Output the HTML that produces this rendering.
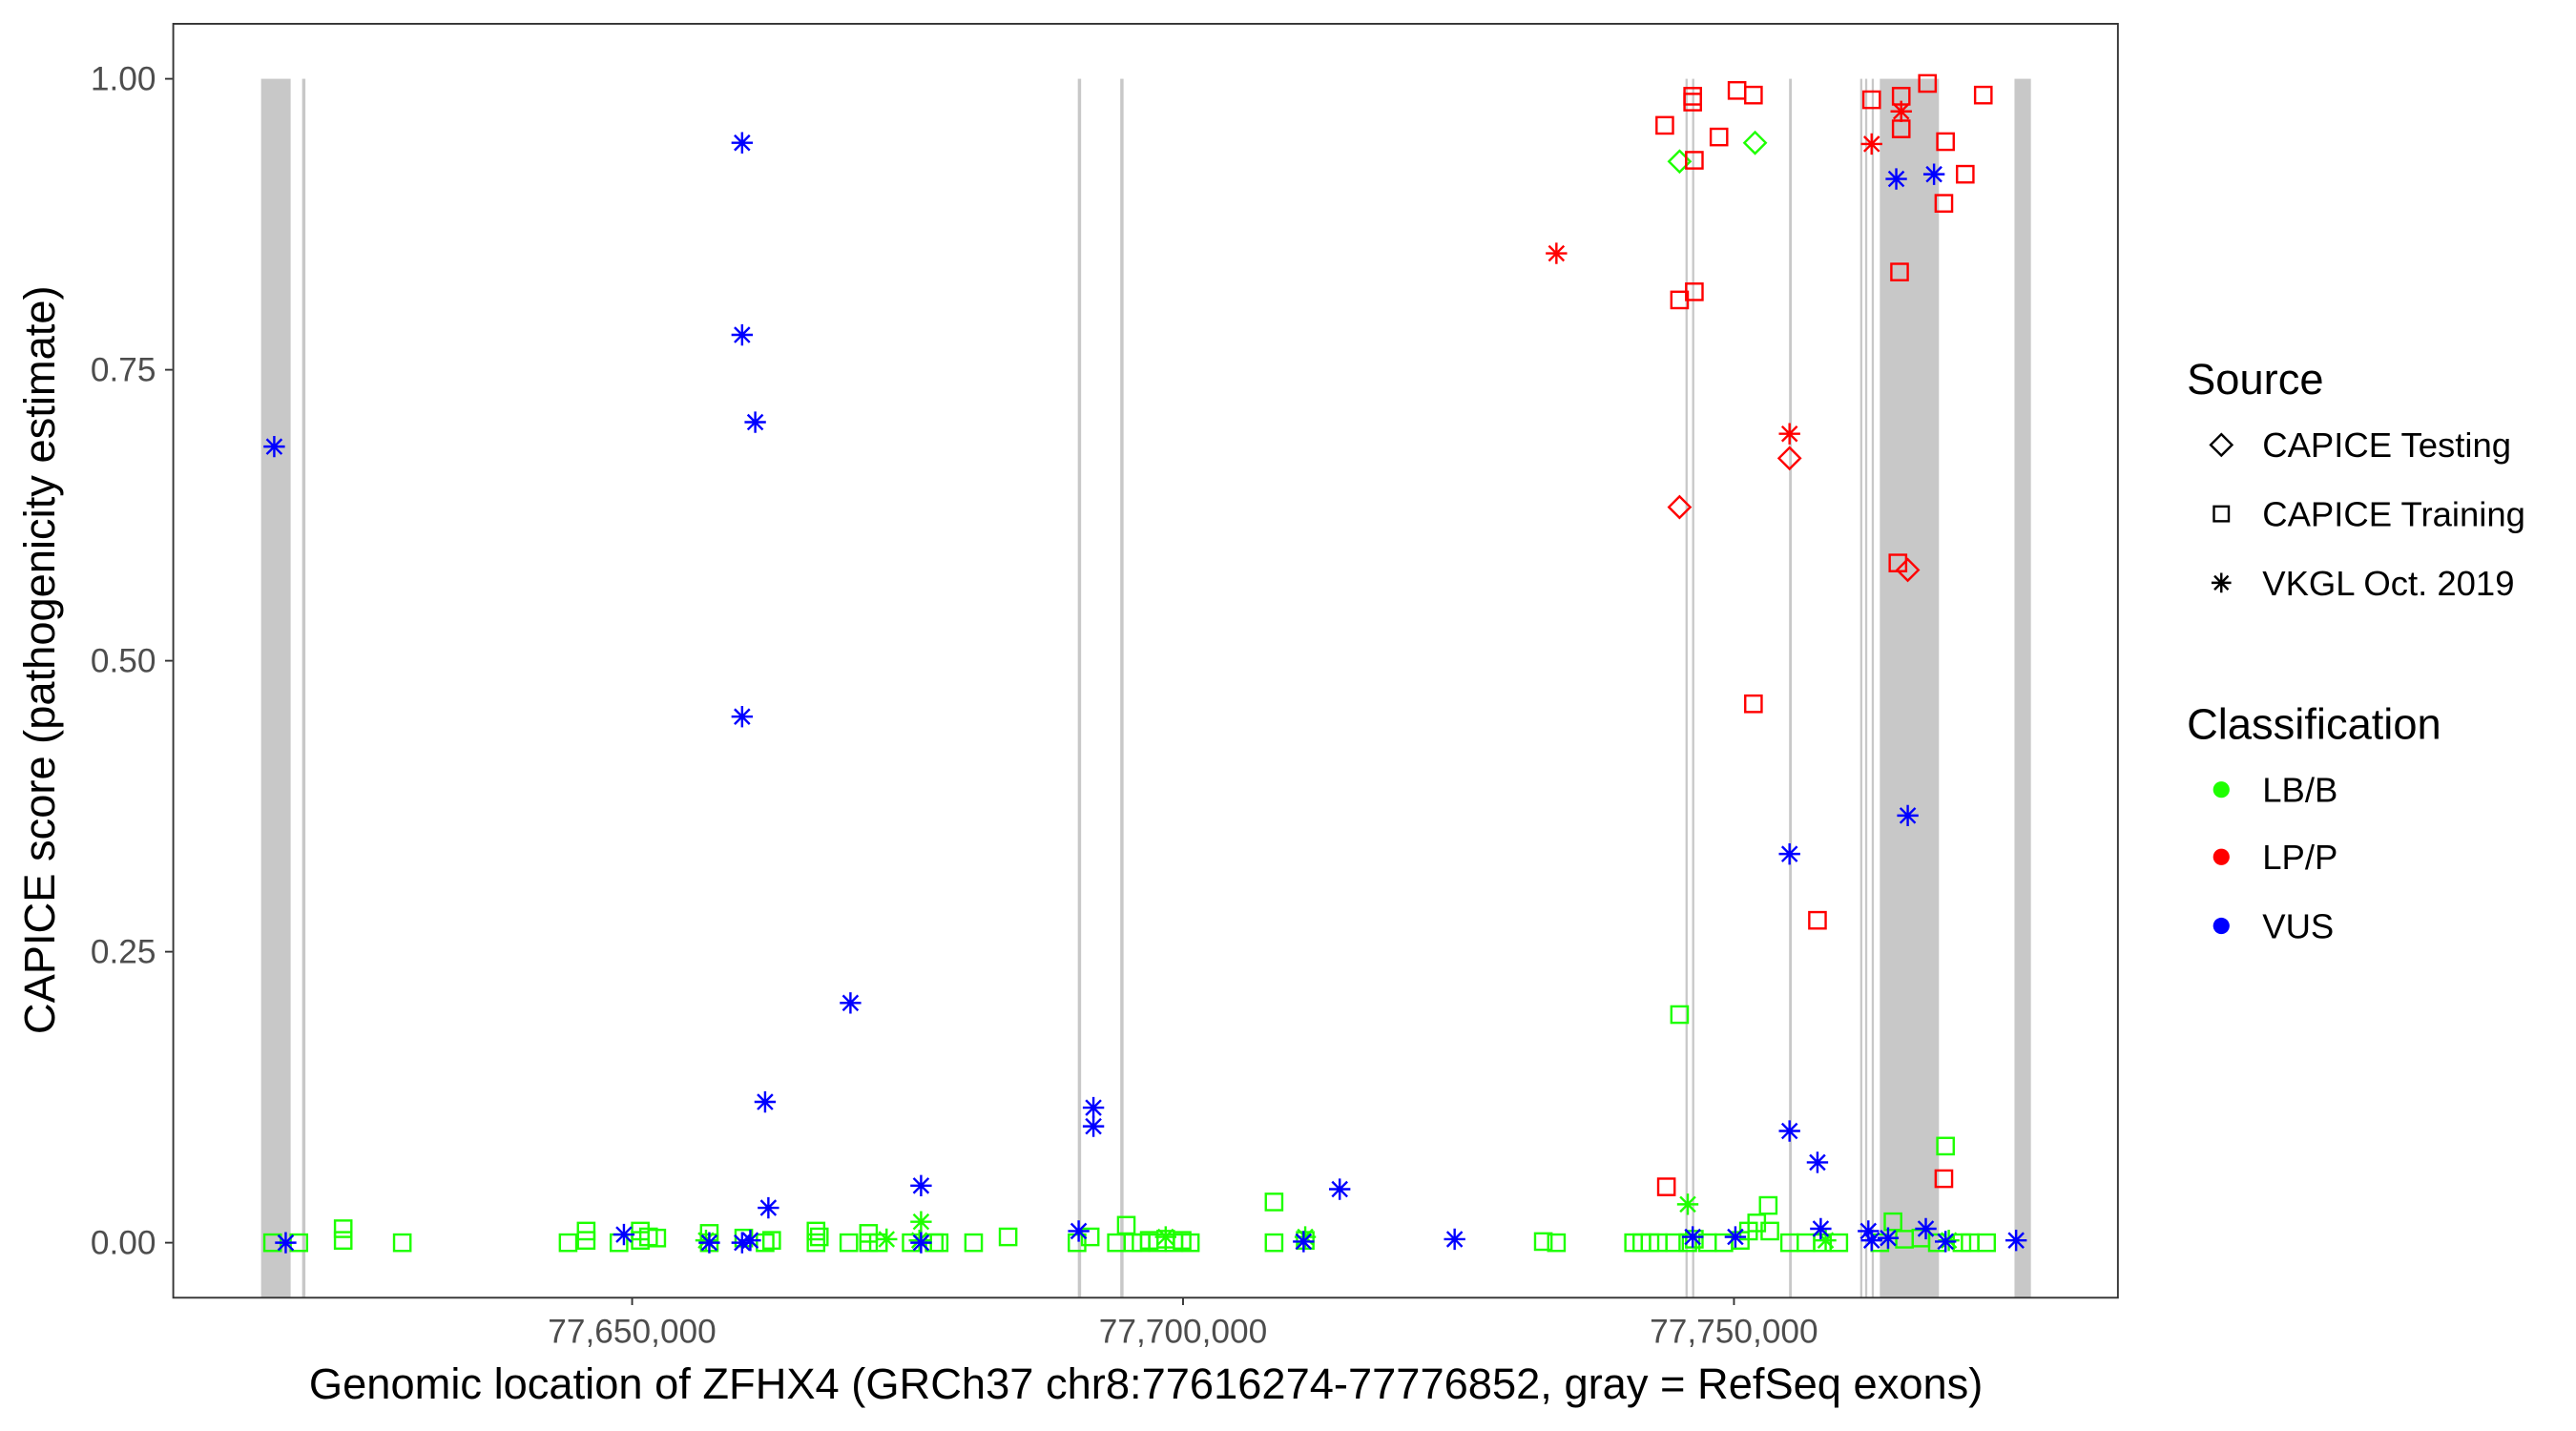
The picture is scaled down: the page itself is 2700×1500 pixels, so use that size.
<!DOCTYPE html>
<html><head><meta charset="utf-8"><style>
html,body{margin:0;padding:0;background:#fff;}
svg{display:block;font-family:"Liberation Sans",Arial,sans-serif;}
</style></head><body>
<svg id="chart" width="2700" height="1500" viewBox="0 0 1569 871.7" xmlns="http://www.w3.org/2000/svg">
<rect x="0" y="0" width="1569" height="872" fill="#fff"/>
<g id="exons"></g>
<g id="points"></g>
<rect x="105.5" y="14.5" width="1184.5" height="776" fill="none" stroke="#333" stroke-width="1.1"/>
<g id="yaxis"></g>
<g id="xaxis"></g>
<text transform="translate(33,402) rotate(-90)" text-anchor="middle" font-size="26.3" fill="#000">CAPICE score (pathogenicity estimate)</text>
<text x="698" y="852" text-anchor="middle" font-size="26.3" fill="#000">Genomic location of ZFHX4 (GRCh37 chr8:77616274-77776852, gray = RefSeq exons)</text>
<g>
<text x="1332" y="240" font-size="26.3">Source</text>
<g><path d="M1353,264.5 L1359.5,271 L1353,277.5 L1346.5,271 Z" fill="none" stroke="#000" stroke-width="1.4"/><text x="1378" y="278.5" font-size="21.2">CAPICE Testing</text></g>
<g><rect x="1348.5" y="308.5" width="9" height="9" fill="none" stroke="#000" stroke-width="1.4"/><text x="1378" y="320.5" font-size="21.2">CAPICE Training</text></g>
<g><path d="M1347,355H1359M1353,349V361M1348.8,350.8L1357.2,359.2M1357.2,350.8L1348.8,359.2" stroke="#000" stroke-width="1.4"/><text x="1378" y="362.5" font-size="21.2">VKGL Oct. 2019</text></g>
</g>
<g>
<text x="1332" y="450" font-size="26.3">Classification</text>
<g><circle cx="1353" cy="481" r="5" fill="#1eff00"/><text x="1378" y="488.5" font-size="21.2">LB/B</text></g>
<g><circle cx="1353" cy="522" r="5" fill="#ff0000"/><text x="1378" y="529.5" font-size="21.2">LP/P</text></g>
<g><circle cx="1353" cy="564" r="5" fill="#0000ff"/><text x="1378" y="571.5" font-size="21.2">VUS</text></g>
</g>
</svg>
<script>
// ---- data ----
const exonStart = [77616326,77620050,77690450,77694300,77745600,77746200,77755000,77761450,77761900,77762500,77763240,77775459];
const exonEnd   = [77619008,77620350,77690750,77694600,77745800,77746400,77755250,77761650,77762100,77762700,77768604,77776950];
const xTicks = [77650000,77700000,77750000];
const xTickLabels = ["77,650,000","77,700,000","77,750,000"];
const yTicks = [0,0.25,0.5,0.75,1];
const yTickLabels = ["0.00","0.25","0.50","0.75","1.00"];

// VUS (blue) VKGL
const vusPos = [77617518,77659983,77659983,77661175,77659983,77669817,77662069,77662367,77676224,77691869,77691869,77714219,77755045,77755045,77757578,77765773,77764730,77768157,
 77618561,77649255,77657003,77659983,77660728,77676224,77690528,77710941,77724649,77746254,77750128,77757876,77762197,77762495,77763985,77767412,77769200,77775607];
const vusScore = [0.684,0.945,0.78,0.705,0.452,0.206,0.121,0.03,0.049,0.116,0.1,0.046,0.334,0.096,0.069,0.367,0.914,0.918,
 0,0.007,0,0,0.002,0,0.01,0.001,0.003,0.005,0.005,0.012,0.01,0.002,0.004,0.012,0.001,0.002];
// LP/P
const lppVkglPos = [77733887,77755045,77762495,77765177];
const lppVkglScore = [0.85,0.695,0.944,0.972];
const lppTrainPos = [77743721,77746254,77746254,77748638,77750277,77751767,77746403,77745062,77746403,77751767,77757578,77743870,77762495,77765177,77765177,77767561,77765028,77764879,77769200,77770988,77769051,77772627,77769051];
const lppTrainScore = [0.96,0.985,0.98,0.95,0.99,0.986,0.93,0.81,0.817,0.463,0.277,0.048,0.982,0.985,0.957,0.996,0.834,0.584,0.946,0.918,0.893,0.986,0.055];
const lppTestPos = [77745062,77755045,77765773];
const lppTestScore = [0.632,0.674,0.578];
// LB/B
const lbbTestPos = [77745062,77751916];
const lbbTestScore = [0.929,0.945];
const lbbTrainPos = [77745062,77769200,77708259,77753108,77752065,77764432,
 77617369,77619753,77623776,77623776,77629140,77644189,77645828,77645828,77648808,77650745,77651490,77650745,77652235,77657003,77657003,77660132,77662069,77662665,77666688,77666986,77666688,77669668,77671456,77671456,77672350,77675330,77677416,77677863,77680992,77684121,77690379,77691571,77693955,77694849,77695445,77696190,77696935,77697680,77698425,77699170,77699915,77700660,77708259,77711090,77732695,77733887,
 77740890,77741635,77742380,77743125,77744615,77745807,77746403,77747595,77749085,77750575,77751320,77753257,77755045,77756535,77758025,77759515,77763240,77765475,77766965,77768455,77770690,77771435,77772925];
const lbbTrainScore = [0.196,0.083,0.035,0.032,0.017,0.018,
 0,0,0.012,0.002,0,0,0.01,0.002,0,0.01,0.005,0.002,0.004,0.008,0,0.004,0,0.002,0.01,0.005,0,0,0.008,0,0,0,0,0,0,0.005,0,0.005,0,0.015,0,0,0.002,0,0.003,0,0.002,0,0,0.002,0.001,0,
 0,0,0,0,0,0,0.003,0,0,0.002,0.01,0.01,0,0,0,0,0,0.003,0.004,0,0,0,0];
const lbbVkglPos = [77676224,77745807,77656705,77673095,77676075,77698425,77711090,77758323,77769498];
const lbbVkglScore = [0.018,0.033,0.002,0.003,0.002,0.005,0.005,0.002,0.002];

// ---- scales ----
const X0=77650000, PX0=385, BP_PER_PX=149;
function xs(bp){return PX0+(bp-X0)/BP_PER_PX;}
function ys(v){return 757-v*709;}
const NS="http://www.w3.org/2000/svg";
function mk(tag,attrs,parent){const e=document.createElementNS(NS,tag);for(const k in attrs)e.setAttribute(k,attrs[k]);parent.appendChild(e);return e;}

const exG=document.getElementById('exons');
for(let i=0;i<exonStart.length;i++){
  const x1=xs(exonStart[i]),x2=xs(exonEnd[i]);
  const r=mk('rect',{x:x1,y:48,width:Math.max(x2-x1,1.2),height:742,fill:'#c8c8c8'},exG);
  
  
}
const yG=document.getElementById('yaxis');
yTicks.forEach((t,i)=>{
  const y=ys(t);
  const l=mk('line',{x1:100.5,x2:105,y1:y,y2:y,stroke:'#333','stroke-width':1.1},yG);
  
  
  const tx=mk('text',{x:95,y:y+7,'text-anchor':'end','font-size':20.5,fill:'#4d4d4d'},yG);
  tx.textContent=yTickLabels[i];
  
  
});
const xG=document.getElementById('xaxis');
xTicks.forEach((t,i)=>{
  const x=xs(t);
  const l=mk('line',{x1:x,x2:x,y1:790.5,y2:795,stroke:'#333','stroke-width':1.1},xG);
  
  
  const tx=mk('text',{x:x,y:818,'text-anchor':'middle','font-size':20.5,fill:'#4d4d4d'},xG);
  tx.textContent=xTickLabels[i];
  
  
});

const pG=document.getElementById('points');
function square(x,y,c){return mk('rect',{x:x-5,y:y-5,width:10,height:10,fill:'none',stroke:c,'stroke-width':1.4},pG);}
function diamond(x,y,c){return mk('path',{d:`M${x},${y-6.5}L${x+6.5},${y}L${x},${y+6.5}L${x-6.5},${y}Z`,fill:'none',stroke:c,'stroke-width':1.4},pG);}
function star(x,y,c){const r=6.5,d=4.6;return mk('path',{d:`M${x-r},${y}H${x+r}M${x},${y-r}V${y+r}M${x-d},${y-d}L${x+d},${y+d}M${x+d},${y-d}L${x-d},${y+d}`,stroke:c,'stroke-width':1.4},pG);}
function draw(pos,sc,fn,c,name){
  for(let i=0;i<pos.length;i++){
    const e=fn(xs(pos[i]),ys(sc[i]),c);
    
    
  }
}
const G='#1eff00',R='#ff0000',B='#0000ff';
draw(lbbTrainPos,lbbTrainScore,square,G,'lbb-training-point');
draw(lbbVkglPos,lbbVkglScore,star,G,'lbb-vkgl-point');
draw(lbbTestPos,lbbTestScore,diamond,G,'lbb-testing-point');
draw(lppTrainPos,lppTrainScore,square,R,'lpp-training-point');
draw(lppTestPos,lppTestScore,diamond,R,'lpp-testing-point');
draw(lppVkglPos,lppVkglScore,star,R,'lpp-vkgl-point');
draw(vusPos,vusScore,star,B,'vus-vkgl-point');
</script>
</body></html>
